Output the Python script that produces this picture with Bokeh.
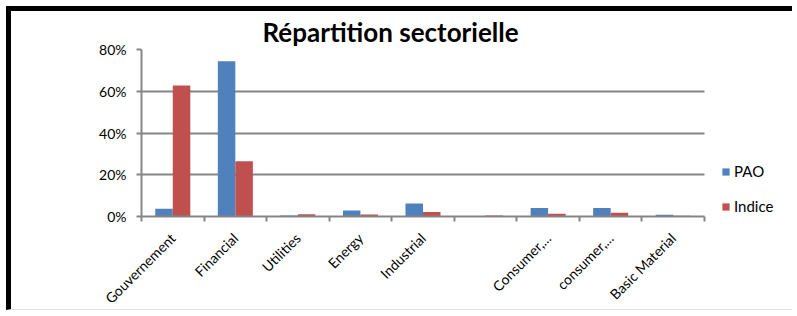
import numpy as np
from bokeh.plotting import figure
from bokeh.models import (ColumnDataSource, FixedTicker, NumeralTickFormatter,
                          Legend, LegendItem, Range1d)
from bokeh.transform import dodge
from bokeh.embed import file_html
from bokeh.resources import INLINE

# ---- data ----
categories = ["Gouvernement", "Financial", "Utilities", "Energy", "Industrial",
              "", "Consumer,...", "consumer,...", "Basic Material"]
pao = [0.037, 0.744, 0.005, 0.029, 0.062, 0.0, 0.041, 0.041, 0.008]
indice = [0.628, 0.265, 0.011, 0.010, 0.021, 0.005, 0.013, 0.018, 0.003]
y_ticks = [0.0, 0.2, 0.4, 0.6, 0.8]
series_names = ["PAO", "Indice"]
title_text = "Répartition sectorielle"

FONT = "Lato"
BLUE = "#4F81BD"
RED = "#C0504D"
GREY = "#868686"

n = len(categories)
centers = [i + 0.5 for i in range(n)]
bounds = [float(i) for i in range(n + 1)]

# layout (canvas pixels)
W, H = 786, 304
ML, MR, MT, MB = 130, 13, 37, 98
bars_px = 563                      # width occupied by the 9 categories
frame_px = W - ML - MR
x_end = n * frame_px / bars_px

src = ColumnDataSource(dict(x=centers, pao=pao, indice=indice))

p = figure(width=W, height=H, output_backend="svg", toolbar_location=None,
           x_range=Range1d(0, x_end), y_range=Range1d(0, 0.8),
           min_border_left=ML, min_border_right=MR,
           min_border_top=MT, min_border_bottom=MB)
p.styles = {"border-left": "5px solid black", "border-top": "5px solid black",
            "border-bottom": "1px solid #e3e3e3",
            "margin-left": "6px", "margin-top": "6px"}

r1 = p.vbar(x=dodge("x", -0.14, range=p.x_range), top="pao", width=0.28,
            source=src, color=BLUE, line_color=None)
r2 = p.vbar(x=dodge("x", 0.14, range=p.x_range), top="indice", width=0.28,
            source=src, color=RED, line_color=None)

# title
p.title.text = title_text
p.title.text_font = FONT
p.title.text_font_size = "26px"
p.title.text_font_style = "bold"
p.title.text_color = "black"
p.title.align = "left"
p.title.offset = 121
p.title.standoff = 4

# x axis
label_ticks = [c for c, name in zip(centers, categories) if name]
p.xaxis.ticker = FixedTicker(ticks=label_ticks, minor_ticks=bounds)
p.xaxis.bounds = (0, n)
p.xaxis.major_label_overrides = {c: name for c, name in zip(centers, categories) if name}
p.xaxis.major_label_orientation = np.pi / 4
p.xaxis.major_tick_line_color = None
p.xaxis.minor_tick_line_color = GREY
p.xaxis.minor_tick_line_width = 2
p.xaxis.minor_tick_out = 5
p.xaxis.minor_tick_in = 0
p.xaxis.axis_line_color = GREY
p.xaxis.axis_line_width = 2
p.xaxis.major_label_text_font = FONT
p.xaxis.major_label_text_font_size = "14px"
p.xaxis.major_label_text_color = "black"
p.xaxis.major_label_standoff = 13

# y axis
p.yaxis.ticker = FixedTicker(ticks=y_ticks)
p.yaxis.formatter = NumeralTickFormatter(format="0%")
p.yaxis.axis_line_color = GREY
p.yaxis.axis_line_width = 2
p.yaxis.major_tick_line_color = GREY
p.yaxis.major_tick_line_width = 2
p.yaxis.major_tick_out = 5
p.yaxis.major_tick_in = 0
p.yaxis.minor_tick_line_color = None
p.yaxis.major_label_text_font = FONT
p.yaxis.major_label_text_font_size = "14px"
p.yaxis.major_label_text_color = "black"
p.yaxis.major_label_standoff = 10

# grid
p.xgrid.grid_line_color = None
p.ygrid.ticker = FixedTicker(ticks=y_ticks)
p.ygrid.cross_bounds = (0, n)
p.ygrid.grid_line_color = GREY
p.ygrid.grid_line_width = 2
p.outline_line_color = None

# legend
legend = Legend(items=[LegendItem(label=series_names[0], renderers=[r1]),
                       LegendItem(label=series_names[1], renderers=[r2])],
                location=(580, 1), orientation="vertical")
legend.glyph_width = 9
legend.glyph_height = 9
legend.label_height = 18
legend.spacing = 17
legend.padding = 0
legend.margin = 0
legend.label_standoff = 4
legend.label_text_font = FONT
legend.label_text_font_size = "15px"
legend.label_text_color = "black"
legend.border_line_color = None
legend.background_fill_alpha = 0
p.add_layout(legend, "center")

open("out.html", "w").write(file_html(p, INLINE))
